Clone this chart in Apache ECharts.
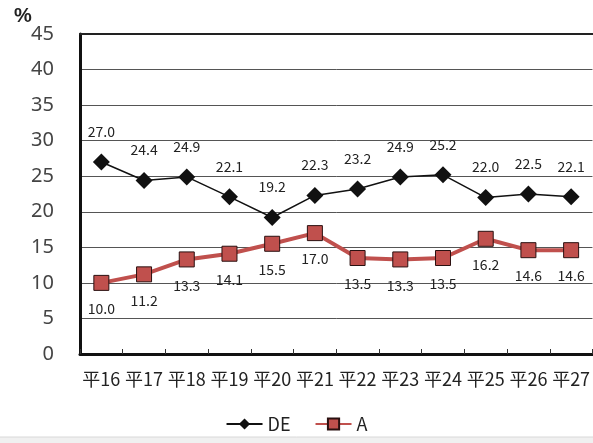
<!DOCTYPE html>
<html><head><meta charset="utf-8">
<script src="https://cdn.jsdelivr.net/npm/echarts@6/dist/echarts.min.js"></script>
<style>html,body{margin:0;padding:0;background:#fff}#c{width:593px;height:443px}</style>
</head><body><div id="c"></div>
<script>
var categories = ['平16','平17','平18','平19','平20','平21','平22','平23','平24','平25','平26','平27'];
var deValues = [27.0, 24.4, 24.9, 22.1, 19.2, 22.3, 23.2, 24.9, 25.2, 22.0, 22.5, 22.1];
var aValues = [10.0, 11.2, 13.3, 14.1, 15.5, 17.0, 13.5, 13.3, 13.5, 16.2, 14.6, 14.6];
var seriesNames = ['DE', 'A'];

var font = '"Noto Sans CJK JP", "Noto Sans", sans-serif';
var chart = echarts.init(document.getElementById('c'));
chart.setOption({
  animation: false,
  backgroundColor: '#fff',
  textStyle: {fontFamily: font},
  graphic: [
    {type: 'text', left: 14, top: 6, style: {text: '%', font: 'bold 20px "Liberation Sans", sans-serif', fill: '#222'}},
    {type: 'rect', left: 0, top: 437, shape: {width: 593, height: 6}, style: {fill: '#f0f0f0'}},
    {type: 'line', shape: {x1: 0, y1: 437, x2: 593, y2: 437}, style: {stroke: '#d8d8d8', lineWidth: 1}}
  ],
  grid: {left: 80, top: 34, width: 515, height: 320, containLabel: false},
  legend: {
    bottom: 5, left: 'center', itemGap: 24, itemWidth: 36, itemHeight: 14,
    textStyle: {fontSize: 18, color: '#222', fontFamily: font},
    data: seriesNames
  },
  xAxis: [{
    type: 'category', data: categories, boundaryGap: true,
    axisLine: {lineStyle: {color: '#111', width: 3}},
    axisTick: {show: true, inside: true, length: 5, lineStyle: {color: '#333', width: 1}},
    axisLabel: {fontSize: 18, color: '#222', margin: 16, interval: 0, fontFamily: font}
  }, {
    type: 'category', data: categories, position: 'top', boundaryGap: true,
    axisLine: {show: true, lineStyle: {color: '#222', width: 2}},
    axisTick: {show: false}, axisLabel: {show: false}, splitLine: {show: false}
  }],
  yAxis: {
    type: 'value', min: 0, max: 45, interval: 5,
    axisLine: {show: true, lineStyle: {color: '#111', width: 3}},
    axisTick: {show: false},
    axisLabel: {fontSize: 20, color: '#444', margin: 26, fontFamily: '"Noto Sans", sans-serif'},
    splitLine: {lineStyle: {color: '#555', width: 1}}
  },
  series: [
    {
      name: seriesNames[0], type: 'line', data: deValues,
      symbol: 'diamond', symbolSize: 17,
      itemStyle: {color: '#111'},
      lineStyle: {color: '#111', width: 1.5},
      label: {show: true, position: 'top', distance: 15, fontSize: 14, color: '#222',
              formatter: function(p){return p.value.toFixed(1);}},
      z: 3
    },
    {
      name: seriesNames[1], type: 'line', data: aValues,
      symbol: 'rect', symbolSize: 15,
      itemStyle: {color: '#c0504d', borderColor: '#2a1010', borderWidth: 1},
      lineStyle: {color: '#c0504d', width: 4},
      label: {show: true, position: 'bottom', distance: 11, fontSize: 14, color: '#222',
              formatter: function(p){return p.value.toFixed(1);}},
      z: 2
    }
  ]
});
</script></body></html>
